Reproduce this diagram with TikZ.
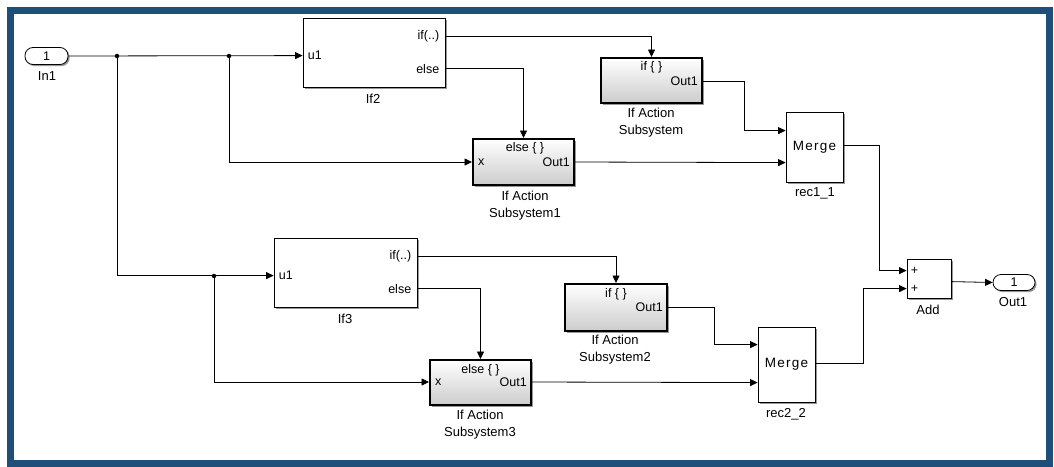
\documentclass[tikz,border=0pt]{standalone}
\usepackage{fontspec}
\setmainfont{Liberation Sans}
\usetikzlibrary{arrows.meta,shadows,calc}
\definecolor{frameblue}{HTML}{1F4E79}
\newcommand{\mergetext}{M\kern1.2pt e\kern1.2pt r\kern1.2pt g\kern1.2pt e}
\begin{document}
\begin{tikzpicture}[x=1pt,y=-1pt,
  shd/.style={drop shadow={shadow xshift=1.6pt,shadow yshift=-1.6pt,fill=black!45,opacity=0.9}},
  blk/.style={draw=black,line width=0.8pt,fill=white,inner sep=0,shd},
  actblk/.style={draw=black,line width=2pt,top color=white,bottom color=black!20,inner sep=0,shd},
  pill/.style={draw=black,line width=0.8pt,fill=white,rounded corners=8pt,inner sep=0,shd,font=\fontsize{12.5}{14}\selectfont},
  lbl/.style={font=\fontsize{13}{17}\selectfont,inner sep=0,align=center},
  portlbl/.style={font=\fontsize{12.5}{14}\selectfont,inner sep=0},
  wire/.style={line width=0.8pt,draw=black},
  sig/.style={wire,-{Triangle[length=7.5pt,width=7pt]}},
  jdot/.style={circle,fill=black,inner sep=0,minimum size=4.5pt}]
\useasboundingbox (0,0) rectangle (1054,466);
\fill[white] (0,0) rectangle (1054,466);
\draw[frameblue,line width=7pt] (10,10) rectangle (1049,463);

% blocks
\node[pill,minimum width=43pt,minimum height=17pt] (in1) at (46.5,56) {1};
\node[lbl] (in1l) at (47,76) {In1};
\node[blk,minimum width=142pt,minimum height=69pt] (if2) at (374,52.5) {};
\node[lbl] (if2l) at (373,99) {If2};
\node[actblk,minimum width=101pt,minimum height=45pt] (act0) at (651.5,80.5) {};
\node[lbl] (act0l) at (651,122.5) {If Action\\Subsystem};
\node[actblk,minimum width=101pt,minimum height=46pt] (act1) at (523.5,162) {};
\node[lbl] (act1l) at (525,205.5) {If Action\\Subsystem1};
\node[blk,minimum width=57pt,minimum height=70pt] (m1) at (814.5,147) {};
\node[lbl] (m1l) at (815,193) {rec1\_1};
\node[blk,minimum width=143pt,minimum height=69pt] (if3) at (345.5,272.5) {};
\node[lbl] (if3l) at (345,319) {If3};
\node[actblk,minimum width=102pt,minimum height=47pt] (act2) at (616,307.5) {};
\node[lbl] (act2l) at (615,349.5) {If Action\\Subsystem2};
\node[actblk,minimum width=101pt,minimum height=45pt] (act3) at (480.5,382.5) {};
\node[lbl] (act3l) at (480,425) {If Action\\Subsystem3};
\node[blk,minimum width=57pt,minimum height=75pt] (m2) at (786.5,364.5) {};
\node[lbl] (m2l) at (786,414) {rec2\_2};
\node[blk,minimum width=44pt,minimum height=39pt] (add) at (929,278.5) {};
\node[lbl] (addl) at (928,310) {Add};
\node[pill,minimum width=42pt,minimum height=16pt] (out1) at (1014,282.5) {1};
\node[lbl] (out1l) at (1013,302) {Out1};

% port coordinates
\coordinate (if2u1) at ($(if2.north west)+(0,38)$);
\coordinate (if2o1) at ($(if2.north east)+(0,19)$);
\coordinate (if2o2) at ($(if2.north east)+(0,51)$);
\coordinate (act0o) at ($(act0.north east)+(0,24)$);
\coordinate (act1x) at ($(act1.north west)+(0,24)$);
\coordinate (act1o) at ($(act1.north east)+(0,24)$);
\coordinate (m1i1) at ($(m1.north west)+(0,19)$);
\coordinate (m1i2) at ($(m1.north west)+(0,51)$);
\coordinate (m1o) at ($(m1.north east)+(0,34)$);
\coordinate (if3u1) at ($(if3.north west)+(0,38)$);
\coordinate (if3o1) at ($(if3.north east)+(0,19)$);
\coordinate (if3o2) at ($(if3.north east)+(0,51)$);
\coordinate (act2o) at ($(act2.north east)+(0,24)$);
\coordinate (act3x) at ($(act3.north west)+(0,23)$);
\coordinate (act3o) at ($(act3.north east)+(0,23)$);
\coordinate (m2i1) at ($(m2.north west)+(0,18)$);
\coordinate (m2i2) at ($(m2.north west)+(0,56)$);
\coordinate (m2o) at ($(m2.north east)+(0,37)$);
\coordinate (addi1) at ($(add.north west)+(0,12)$);
\coordinate (addi2) at ($(add.north west)+(0,30)$);
\coordinate (addo) at ($(add.north east)+(0,23)$);

% port labels
\node[portlbl,anchor=west] (if2pu) at ($(if2u1)+(5,0)$) {u1};
\node[portlbl,anchor=east] (if2pa) at ($(if2o1)+(-6,0)$) {if(..)};
\node[portlbl,anchor=east] (if2pb) at ($(if2o2)+(-6,0)$) {else};
\node[portlbl,anchor=west] (if3pu) at ($(if3u1)+(5,0)$) {u1};
\node[portlbl,anchor=east] (if3pa) at ($(if3o1)+(-6,0)$) {if(..)};
\node[portlbl,anchor=east] (if3pb) at ($(if3o2)+(-6,0)$) {else};
\node[portlbl] (act0pt) at ($(act0.north)+(0,10)$) {if \{ \}};
\node[portlbl,anchor=east] (act0po) at ($(act0o)+(-5,0)$) {Out1};
\node[portlbl] (act1pt) at ($(act1.north)+(1.5,10)$) {else \{ \}};
\node[portlbl,anchor=west] (act1px) at ($(act1x)+(6,0)$) {x};
\node[portlbl,anchor=east] (act1po) at ($(act1o)+(-5,0)$) {Out1};
\node[portlbl] (act2pt) at ($(act2.north)+(0,11)$) {if \{ \}};
\node[portlbl,anchor=east] (act2po) at ($(act2o)+(-5,0)$) {Out1};
\node[portlbl] (act3pt) at ($(act3.north)+(0,11)$) {else \{ \}};
\node[portlbl,anchor=west] (act3px) at ($(act3x)+(6,0)$) {x};
\node[portlbl,anchor=east] (act3po) at ($(act3o)+(-5,0)$) {Out1};
\node[lbl,font=\fontsize{13.5}{17}\selectfont] (m1t) at (m1.center) {\mergetext};
\node[lbl,font=\fontsize{13.5}{17}\selectfont] (m2t) at (m2.center) {\mergetext};
\node[portlbl] (addp1) at ($(addi1)+(8,0)$) {+};
\node[portlbl] (addp2) at ($(addi2)+(8,0)$) {+};

% junctions
\node[jdot] (j1) at (117,56) {};
\node[jdot] (j2) at (229,56) {};
\node[jdot] (j3) at (214,276) {};

% wires
\draw[sig] (in1.east) -- (if2u1);
\draw[sig] (j2.center) |- (act1x);
\draw[sig] (if2o1) -| (act0.north);
\draw[sig] (if2o2) -| (act1.north);
\draw[sig] (act0o) -- ++(41,0) |- (m1i1);
\draw[sig] (act1o) -- (m1i2);
\draw[sig] (m1o) -- ++(36,0) |- (addi1);
\draw[sig] (j1.center) |- (if3u1);
\draw[sig] (j3.center) |- (act3x);
\draw[sig] (if3o1) -| (act2.north);
\draw[sig] (if3o2) -| (act3.north);
\draw[sig] (act2o) -- ++(46,0) |- (m2i1);
\draw[sig] (act3o) -- (m2i2);
\draw[sig] (m2o) -- ++(48,0) |- (addi2);
\draw[sig] (addo) -- (out1.west);
\end{tikzpicture}
\end{document}
